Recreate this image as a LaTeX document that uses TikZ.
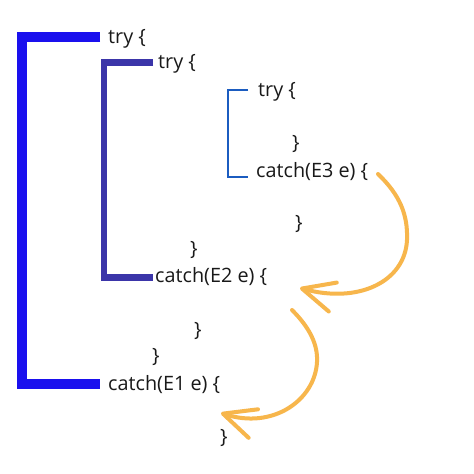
\documentclass[tikz,border=0pt]{standalone}
\usepackage{fontspec}
\setmainfont{Open Sans}
\usetikzlibrary{arrows.meta}
\definecolor{outerblue}{HTML}{1A10EE}
\definecolor{midblue}{HTML}{3B35A9}
\definecolor{innerblue}{HTML}{1B5CC0}
\definecolor{flow}{HTML}{F7B64C}
\tikzset{
  code/.style={anchor=west, inner sep=0pt, text=black!90},
  outer/.style={draw=outerblue, line width=10pt},
  middle/.style={draw=midblue, line width=6.5pt},
  inner/.style={draw=innerblue, line width=2pt},
  throwto/.style={draw=flow, line width=4pt, line cap=round,
    -{Straight Barb[length=32pt, width=30pt, round]}}
}
\begin{document}
\begin{tikzpicture}[x=1pt, y=-1pt]
\useasboundingbox (0,0) rectangle (474,474);
\fill[white] (0,0) rectangle (474,474);

\fontsize{19.8}{22}\selectfont
% outer level
\node[code] (tryA) at (108,39) {try \{};
\node[code] (tryB) at (158,64) {try \{};
\node[code] (tryC) at (258,92) {try \{};
\node[code] (endC) at (292,144) {\}};
\node[code] (catchC) at (256,172) {catch(E3 e) \{};
\node[code] (endCC) at (295,224) {\}};
\node[code] (endB) at (190,250) {\}};
\node[code] (catchB) at (155,277) {catch(E2 e) \{};
\node[code] (endBC) at (194,331) {\}};
\node[code] (endA) at (152,357) {\}};
\node[code] (catchA) at (108,385) {catch(E1 e) \{};
\node[code] (endAC) at (220,438) {\}};

% brackets
\draw[outer] ([shift={(-8,-2)}]tryA.west) -- ++(-78.5,0) |- ([shift={(-8,-1)}]catchA.west);
\draw[middle] ([shift={(-5,-1.5)}]tryB.west) -- ++(-49,0) |- ([shift={(-2,0.5)}]catchB.west);
\draw[inner] ([shift={(-10,-2)}]tryC.west) -- ++(-19.7,0) |- ([shift={(-8,4.7)}]catchC.west);

% rethrow arrows
\coordinate (fromC) at (378,174);
\coordinate (toB) at (300,288);
\coordinate (fromB) at (292,310);
\coordinate (toA) at (221,413);
\draw[throwto] (fromC) .. controls (400,195) and (408,215) .. (407,240)
  .. controls (405,282) and (358,304) .. (toB);
\draw[throwto] (fromB) .. controls (310,328) and (318,345) .. (317,362)
  .. controls (315,400) and (273,430) .. (toA);
\end{tikzpicture}
\end{document}
